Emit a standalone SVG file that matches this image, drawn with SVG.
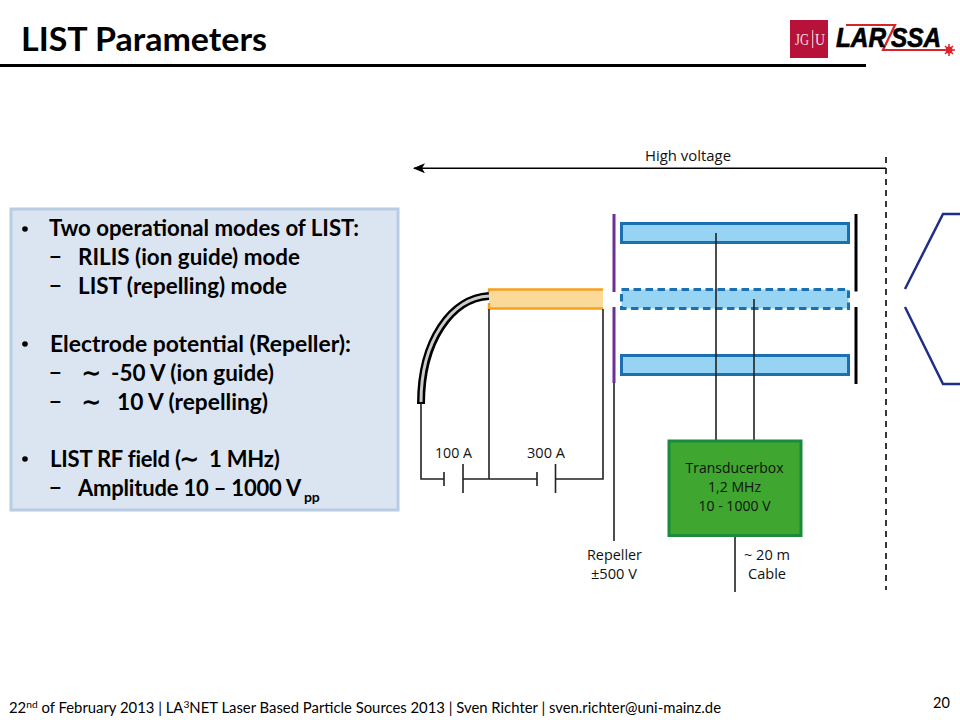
<svg xmlns="http://www.w3.org/2000/svg" width="960" height="720" viewBox="0 0 960 720">
<style>
.t{font-family:"Lato","Liberation Sans",sans-serif;fill:#000}
.b{font-size:22px;font-weight:700;font-family:"Lato","Liberation Sans",sans-serif;fill:#000}
.n{letter-spacing:-.2px}
.l{font-family:"Open Sans","Liberation Sans",sans-serif;font-size:15px;fill:#111;text-anchor:middle}
.w{fill:none;stroke:#222;stroke-width:1.6}
.rod{fill:#97d3f2;stroke:#1a70b0;stroke-width:3}
.tl{font-family:"DejaVu Sans",sans-serif;font-weight:700;font-size:24px;fill:#000}
.logo{font-family:"Liberation Sans",sans-serif;font-size:27px;font-weight:700;font-style:italic;fill:#000;stroke:#000;stroke-width:.7}
</style>
<defs><marker id="ah" markerUnits="userSpaceOnUse" markerWidth="12" markerHeight="10" refX="11" refY="5" orient="auto"><path d="M0 0L12 5L0 10L3 5Z" fill="#000"/></marker></defs>
<rect width="960" height="720" fill="#fff"/>
<g id="header">
<text class="t" x="21" y="51" font-size="33" font-weight="700" textLength="246" lengthAdjust="spacingAndGlyphs">LIST Parameters</text>
<path d="M0 65.500H866" stroke="#000" stroke-width="3"/>
</g>
<g id="logo-jgu">
<rect x="790" y="20" width="38" height="38" fill="#b8123a"/>
<text x="795" y="45" font-family="Liberation Serif,serif" font-size="17" fill="#f3dfe3" textLength="14" lengthAdjust="spacingAndGlyphs">JG</text>
<path d="M812.700 30V48" stroke="#f3dfe3"/>
<text x="815" y="45" font-family="Liberation Serif,serif" font-size="17" fill="#f3dfe3" textLength="10" lengthAdjust="spacingAndGlyphs">U</text>
</g>
<g id="logo-larissa">
<path d="M846 25H895L883 50H945" fill="none" stroke="#d8232a" stroke-width="2.200"/>
<text class="logo" x="836" y="47" textLength="50" lengthAdjust="spacingAndGlyphs">LAR</text>
<text class="logo" x="891" y="47" textLength="50" lengthAdjust="spacingAndGlyphs">SSA</text>
<path d="M943 50H955M949 44V56M945 46L953 54M953 46L945 54" stroke="#e0202a" stroke-width="1.500"/>
<circle cx="949" cy="50" r="3.500" fill="#e0202a"/>
</g>
<g id="info-box">
<rect x="11" y="209" width="387" height="301" fill="#dbe5f1" stroke="#b8cce4" stroke-width="3"/>
<circle cx="25" cy="229" r="2.800" fill="#000"/>
<text class="b" x="49" y="236" textLength="310" lengthAdjust="spacingAndGlyphs">Two operational modes of LIST:</text>
<text class="b" x="49" y="265">−</text><text class="b" x="78" y="265" textLength="222" lengthAdjust="spacingAndGlyphs">RILIS (ion guide) mode</text>
<text class="b" x="49" y="294">−</text><text class="b" x="78" y="294" textLength="209" lengthAdjust="spacingAndGlyphs">LIST (repelling) mode</text>
<circle cx="25" cy="344" r="2.800" fill="#000"/>
<text class="b" x="50" y="352" textLength="301" lengthAdjust="spacingAndGlyphs">Electrode potential (Repeller):</text>
<text class="b" x="49" y="381">−</text><text class="tl" x="81" y="381">∼</text><text class="b" x="111" y="381" textLength="163" lengthAdjust="spacingAndGlyphs">-50 V (ion guide)</text>
<text class="b" x="49" y="410">−</text><text class="tl" x="81" y="410">∼</text><text class="b" x="117" y="410" textLength="151" lengthAdjust="spacingAndGlyphs">10 V (repelling)</text>
<circle cx="25" cy="459" r="2.800" fill="#000"/>
<text class="b n" x="50" y="467">LIST RF field (<tspan class="tl" x="179">∼</tspan><tspan x="209">1 MHz)</tspan></text>
<text class="b" x="49" y="496">−</text><text class="b n" x="78" y="496">Amplitude 10 – 1000 V<tspan x="304" dy="6" style="font-size:14px">pp</tspan></text>
</g>
<g id="fibre">
<path d="M421 404C421 340 452 298 489 296" fill="none" stroke="#000" stroke-width="8"/>
<path d="M421 402C421 340 452 298 489 296" fill="none" stroke="#ccc" stroke-width="3"/>
</g>
<g id="source">
<rect x="489" y="289.500" width="114" height="19" fill="#fbd999"/>
<path d="M488 289.500H603M488 308.500H603" stroke="#f5a01e" stroke-width="2.500" fill="none"/>
<path d="M489 289V292M489 303V309" stroke="#f5a01e" stroke-width="2.500"/>
</g>
<g id="repeller">
<path d="M614 214V292M614 307V383" stroke="#6b2f96" stroke-width="3" fill="none"/>
</g>
<g id="rods">
<rect class="rod" x="621.500" y="223.500" width="227" height="19"/>
<rect class="rod" x="621.500" y="289.500" width="227" height="19" stroke-dasharray="7.500 4.500"/>
<rect class="rod" x="621.500" y="355.500" width="227" height="19"/>
</g>
<g id="end-plates">
<path d="M856 214V291.500M856 307V384" stroke="#000" stroke-width="3" fill="none"/>
</g>
<g id="extractor">
<path d="M905 289L943 214H960M905 307L943 384H960" fill="none" stroke="#1f2f87" stroke-width="2.500"/>
</g>
<g id="connectors">
<path d="M886 168.300H414" fill="none" stroke="#000" stroke-width="1.500" marker-end="url(#ah)"/>
<path d="M886 157V590" fill="none" stroke="#222" stroke-width="1.800" stroke-dasharray="6 5"/>
<path class="w" d="M421 403V479H444M463 479H537M555 479H603V309M489 309V479"/>
<path class="w" d="M444 472V486M537 472V486M463 464V493M555.500 464V493"/>
<path class="w" d="M614 383V541M716 233V441M754 299V441M735 536V592"/>
</g>
<g id="transducerbox">
<rect x="669" y="441" width="132" height="94.500" fill="#3fa62f" stroke="#1b8a3e" stroke-width="3"/>
<text class="l" x="734.500" y="473" textLength="98" lengthAdjust="spacingAndGlyphs">Transducerbox</text>
<text class="l" x="734.500" y="492" textLength="53" lengthAdjust="spacingAndGlyphs">1,2 MHz</text>
<text class="l" x="734.500" y="511" textLength="72" lengthAdjust="spacingAndGlyphs">10 - 1000 V</text>
</g>
<g id="labels">
<text class="l" x="688" y="161" textLength="86" lengthAdjust="spacingAndGlyphs">High voltage</text>
<text class="l" x="453.500" y="458" textLength="37" lengthAdjust="spacingAndGlyphs">100 A</text>
<text class="l" x="546" y="458" textLength="38" lengthAdjust="spacingAndGlyphs">300 A</text>
<text class="l" x="614.500" y="560" textLength="55" lengthAdjust="spacingAndGlyphs">Repeller</text>
<text class="l" x="614" y="579" textLength="46" lengthAdjust="spacingAndGlyphs">±500 V</text>
<text class="l" x="767" y="560" textLength="46" lengthAdjust="spacingAndGlyphs">~ 20 m</text>
<text class="l" x="767" y="579" textLength="38" lengthAdjust="spacingAndGlyphs">Cable</text>
</g>
<g id="footer">
<text class="t" x="9" y="713" font-size="14.500" textLength="712" lengthAdjust="spacingAndGlyphs">22<tspan dy="-5" font-size="10">nd</tspan><tspan dy="5"> of February 2013 | LA</tspan><tspan dy="-5" font-size="10">3</tspan><tspan dy="5">NET Laser Based Particle Sources 2013 | Sven Richter | sven.richter@uni-mainz.de</tspan></text>
<text class="t" x="933" y="708" font-size="14.500">20</text>
</g>
</svg>
